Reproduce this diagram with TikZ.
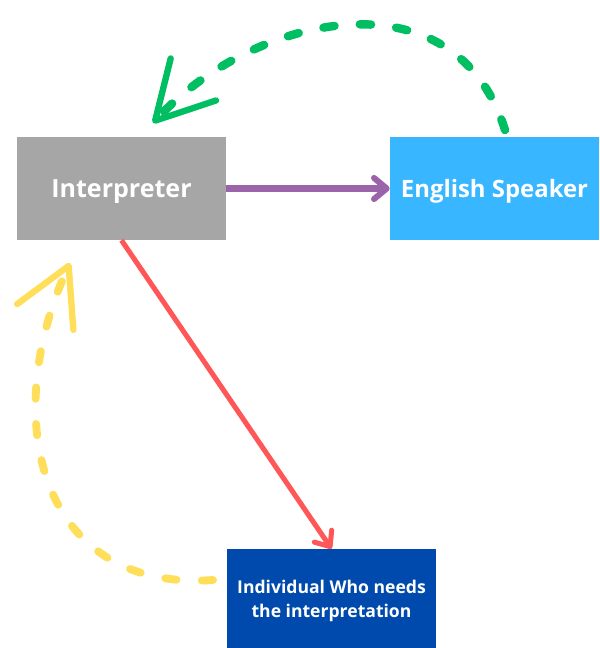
\documentclass[tikz,border=0pt]{standalone}
\usepackage{fontspec}
\setmainfont{Open Sans}
\usepackage{xcolor}
\usetikzlibrary{arrows.meta}
\definecolor{boxgray}{HTML}{A6A6A6}
\definecolor{boxsky}{HTML}{38B6FF}
\definecolor{boxnavy}{HTML}{004AAD}
\definecolor{linkpurple}{HTML}{9B63A9}
\definecolor{linkred}{HTML}{FF5757}
\definecolor{loopgreen}{HTML}{00BF63}
\definecolor{loopyellow}{HTML}{FFDE59}
\tikzset{
  party/.style   = { rectangle, inner sep=0pt, text=white, text depth=0pt, minimum width=5.225cm, minimum height=2.575cm, font=\bfseries\fontsize{17}{20}\selectfont },
  small/.style   = { font=\bfseries\fontsize{12.5}{17}\selectfont, align=center, minimum height=2.475cm },
  talk/.style    = { line width=#1, -{Straight Barb[length=9pt,width=15pt,round]} },
  echo/.style    = { line width=6pt, line cap=round, dash pattern=on 8pt off 18pt,
                     -{Straight Barb[length=40pt,width=44pt,line width=4.5pt,round]} }
}
\begin{document}
\begin{tikzpicture}[x=0.025cm,y=-0.025cm]
  \useasboundingbox (0,0) rectangle (599,648);
  % Draw all parties
  \node[party, fill=boxgray, font=\bfseries\fontsize{17.8}{20}\selectfont] (interp) at (121.5,188.5) {Interpreter};
  \node[party, fill=boxsky]  (speaker) at (494.5,188.5) {English Speaker};
  \node[party, small, fill=boxnavy] (client) at (331.5,598.5) {Individual Who needs\\the interpretation};
  % Free ends of the loops
  \coordinate (gstart) at (505,130);
  \coordinate (gend)   at (153,123);
  \coordinate (ystart) at (213,580);
  \coordinate (yend)   at (70,263);
  % Draw links
  \draw[talk=4.3pt, linkpurple] (interp.east) -- (speaker.west);
  \draw[talk=3.6pt, linkred] (interp.south) -- (client.north);
  % Draw loops
  \draw[echo, loopgreen] (gstart) .. controls (455,-30) and (255,13) .. (gend);
  \draw[echo, loopyellow, line width=5.6pt] (ystart) .. controls (40,592) and (-2,420) .. (yend);
\end{tikzpicture}
\end{document}
